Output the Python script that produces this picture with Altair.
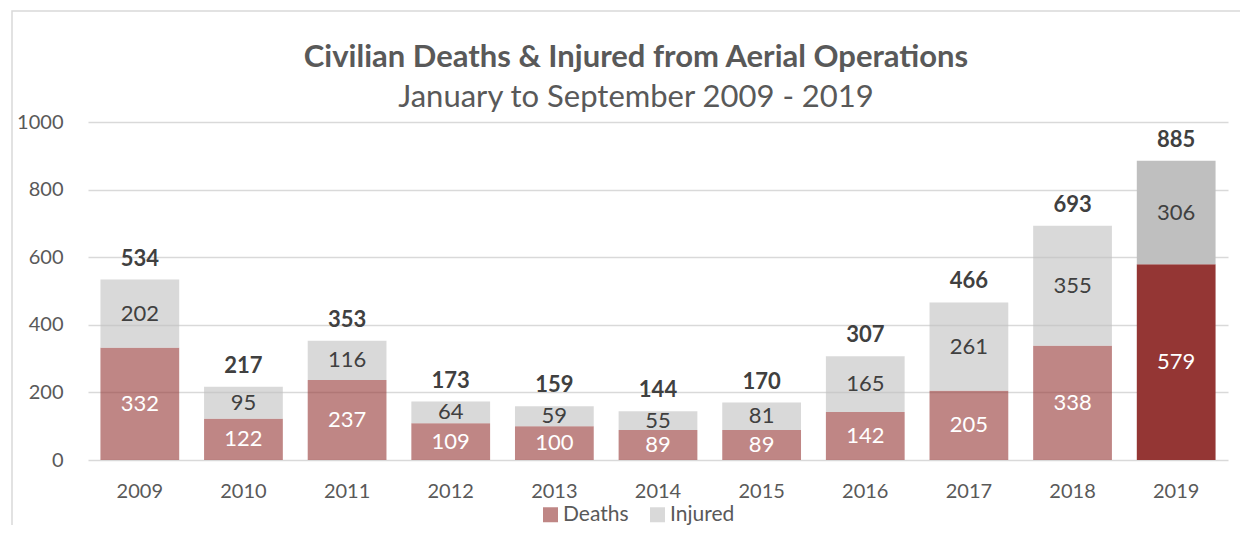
import altair as alt
import pandas as pd

years = ["2009", "2010", "2011", "2012", "2013", "2014", "2015", "2016", "2017", "2018", "2019"]
deaths = [332, 122, 237, 109, 100, 89, 89, 142, 205, 338, 579]
injured = [202, 95, 116, 64, 59, 55, 81, 165, 261, 355, 306]
y_ticks = [0, 200, 400, 600, 800, 1000]

FONT = "Lato"
GREY_TXT = "#595959"
DARK_TXT = "#404040"

rows = []
for y, d, i in zip(years, deaths, injured):
    rows.append({"year": y, "series": "Deaths", "start": 0, "end": d, "hl": y == "2019"})
    rows.append({"year": y, "series": "Injured", "start": d, "end": d + i, "hl": y == "2019"})
bars_df = pd.DataFrame(rows)

lab_df = pd.DataFrame({
    "year": years,
    "deaths": deaths,
    "injured": injured,
    "total": [d + i for d, i in zip(deaths, injured)],
    "dmid": [d / 2 for d in deaths],
    "imid": [d + i / 2 for d, i in zip(deaths, injured)],
})

xenc = alt.X("year:N", sort=years, title=None,
             scale=alt.Scale(paddingInner=0.24, paddingOuter=0.12),
             axis=alt.Axis(labelAngle=0, ticks=False, domain=False, labelFontSize=20,
                           labelColor=GREY_TXT, labelFont=FONT, labelPadding=21, grid=False))
yscale = alt.Scale(domain=[0, 1000], nice=False)

bars = alt.Chart(bars_df).mark_bar().encode(
    x=xenc,
    y=alt.Y("start:Q", scale=yscale, title=None,
            axis=alt.Axis(values=y_ticks, format="d", ticks=False, domain=False, labelFontSize=20,
                          labelColor=GREY_TXT, labelFont=FONT, labelPadding=25,
                          gridColor="#D9D9D9", gridWidth=1.5)),
    y2="end:Q",
    color=alt.Color("series:N", title=None,
                    scale=alt.Scale(domain=["Deaths", "Injured"], range=["#943634", "#BFBFBF"]),
                    legend=alt.Legend(orient="none", legendX=452, legendY=382, direction="horizontal",
                                      symbolType="square", symbolSize=225, symbolOpacity=0.6,
                                      symbolStrokeWidth=0, labelFontSize=21, labelFont=FONT,
                                      labelColor=GREY_TXT, columnPadding=18, labelOffset=2,
                                      padding=0)),
    opacity=alt.condition("datum.hl", alt.value(1.0), alt.value(0.6)),
)

dlab = alt.Chart(lab_df).mark_text(font=FONT, fontSize=22, color="white", baseline="middle").encode(
    x=alt.X("year:N", sort=years), y=alt.Y("dmid:Q", scale=yscale), text="deaths:Q")
ilab = alt.Chart(lab_df).mark_text(font=FONT, fontSize=22, color=DARK_TXT, baseline="middle").encode(
    x=alt.X("year:N", sort=years), y=alt.Y("imid:Q", scale=yscale), text="injured:Q")
tlab = alt.Chart(lab_df).mark_text(font=FONT, fontSize=22, fontWeight="bold", color=DARK_TXT,
                                   baseline="alphabetic", dy=-14).encode(
    x=alt.X("year:N", sort=years), y=alt.Y("total:Q", scale=yscale), text="total:Q")

frame = alt.Chart(pd.DataFrame({"a": [0]})).mark_rect(
    fill=None, stroke="#D9D9D9", strokeWidth=1.5, clip=False
).encode(x=alt.value(-76), x2=alt.value(1200), y=alt.value(-111), y2=alt.value(440))

chart = alt.layer(frame, bars, dlab, ilab, tlab).properties(
    width=1140, height=338,
    title=alt.Title("Civilian Deaths & Injured from Aerial Operations",
                    subtitle="January to September 2009 - 2019",
                    font=FONT, fontSize=31, fontWeight="bold", color=GREY_TXT,
                    subtitleFont=FONT, subtitleFontSize=31, subtitleColor=GREY_TXT,
                    subtitlePadding=9, anchor="middle", dx=-22, dy=114, offset=10, frame="group"),
    autosize=alt.AutoSizeParams(type="none"),
    padding={"left": 80, "top": 114, "right": 12, "bottom": 65},
).configure_view(stroke=None)

chart.save("out.html", embed_options={"renderer": "svg", "actions": False})
